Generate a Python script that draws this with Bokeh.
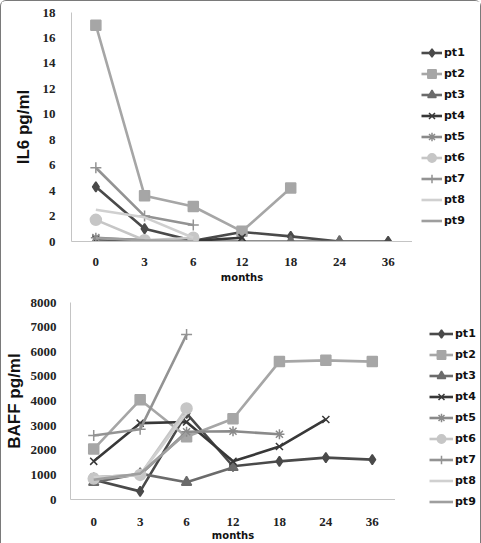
import math
from bokeh.plotting import figure
from bokeh.models import (Range1d, FactorRange, Legend, LegendItem,
                          ColumnDataSource, FixedTicker)
from bokeh.layouts import column, row
from bokeh.embed import file_html
from bokeh.resources import INLINE

nan = float("nan")

months = ["0", "3", "6", "12", "18", "24", "36"]
patients = ["pt1", "pt2", "pt3", "pt4", "pt5", "pt6", "pt7", "pt8", "pt9"]

# IL6 pg/ml
il6_pt1 = [4.3, 1.0, 0.05, 0.75, 0.4, 0.0, 0.0]
il6_pt2 = [17.0, 3.6, 2.75, 0.8, 4.2, nan, nan]
il6_pt3 = [0.0, 0.0, 0.0, 0.0, 0.0, 0.0, nan]
il6_pt4 = [0.2, 0.1, 0.05, 0.3, nan, nan, nan]
il6_pt5 = [0.3, 0.1, 0.0, nan, nan, nan, nan]
il6_pt6 = [1.7, 0.1, 0.3, nan, nan, nan, nan]
il6_pt7 = [5.8, 2.0, 1.3, nan, nan, nan, nan]
il6_pt8 = [2.5, 1.9, 0.3, nan, nan, nan, nan]
il6_pt9 = [0.25, 0.1, 0.0, nan, nan, nan, nan]

# BAFF pg/ml
baff_pt1 = [800, 330, 3500, 1350, 1550, 1700, 1620]
baff_pt2 = [2050, 4050, 2550, 3280, 5600, 5650, 5600]
baff_pt3 = [700, 1050, 700, 1300, nan, nan, nan]
baff_pt4 = [1550, 3100, 3150, 1550, 2150, 3250, nan]
baff_pt5 = [900, 1000, 2750, 2770, 2650, nan, nan]
baff_pt6 = [850, 1000, 3700, nan, nan, nan, nan]
baff_pt7 = [2600, 2850, 6700, nan, nan, nan, nan]
baff_pt8 = [900, 1000, 3500, nan, nan, nan, nan]
baff_pt9 = [800, 1050, 2700, nan, nan, nan, nan]

il6_ticks = [0, 2, 4, 6, 8, 10, 12, 14, 16, 18]
baff_ticks = [0, 1000, 2000, 3000, 4000, 5000, 6000, 7000, 8000]

colors = ["#4a4a4a", "#a6a6a6", "#6b6b6b", "#383838", "#8a8a8a",
          "#c6c6c6", "#939393", "#d0d0d0", "#9e9e9e"]
markers = ["diamond", "square", "triangle", "x", "asterisk", "circle", "cross", None, None]
msizes = [10, 10, 10, 10, 10, 11, 11, 0, 0]

TICK_FONT = "Liberation Serif"
LAB_FONT = "Liberation Sans"
LEG_FONT = "DejaVu Sans"


def add_series(p, series, visible=True):
    groups = []
    for name, vals, c, m, s in zip(patients, series, colors, markers, msizes):
        src = ColumnDataSource(dict(x=months, y=vals))
        rs = [p.line("x", "y", source=src, line_color=c, line_width=2.6)]
        if m is not None:
            rs.append(p.scatter("x", "y", source=src, marker=m, size=s,
                                fill_color=c, line_color=c, line_width=1.5))
        for r in rs:
            r.visible = visible
        groups.append((name, rs))
    return groups


def make_chart(series, ymax, ticks, ylabel, width, height, borders,
               xstandoff, ystandoff, ylab_standoff, xlab_standoff):
    bl, bt, bb = borders
    p = figure(width=width, height=height, x_range=FactorRange(*months),
               y_range=Range1d(0, ymax), output_backend="svg",
               toolbar_location=None, min_border_left=bl, min_border_right=0,
               min_border_top=bt, min_border_bottom=bb)
    p.outline_line_color = None
    p.xgrid.visible = False
    p.ygrid.visible = False
    p.yaxis.ticker = FixedTicker(ticks=ticks)
    for ax in (p.xaxis[0], p.yaxis[0]):
        ax.axis_line_color = "#c4c4c4"
        ax.axis_line_width = 1
        ax.major_tick_line_color = None
        ax.minor_tick_line_color = None
        ax.major_label_text_font = TICK_FONT
        ax.major_label_text_font_style = "bold"
        ax.major_label_text_font_size = "13px"
        ax.major_label_text_color = "#222222"
    p.xaxis.major_label_standoff = xstandoff
    p.yaxis.major_label_standoff = ystandoff
    p.yaxis.axis_label = ylabel
    p.yaxis.axis_label_text_font = LAB_FONT
    p.yaxis.axis_label_text_font_style = "bold"
    p.yaxis.axis_label_text_font_size = "17px"
    p.yaxis.axis_label_text_color = "#111111"
    p.yaxis.axis_label_standoff = ylab_standoff
    p.xaxis.axis_label = "months"
    p.xaxis.axis_label_text_font = LEG_FONT
    p.xaxis.axis_label_text_font_style = "bold"
    p.xaxis.axis_label_text_font_size = "10px"
    p.xaxis.axis_label_text_color = "#111111"
    p.xaxis.axis_label_standoff = xlab_standoff
    add_series(p, series)
    return p


def make_legend(series, ymax, width, height, loc, glyph_w):
    q = figure(width=width, height=height, x_range=FactorRange(*months),
               y_range=Range1d(0, ymax), output_backend="svg",
               toolbar_location=None, x_axis_location=None, y_axis_location=None,
               min_border=0)
    q.frame_align = False
    q.outline_line_color = None
    q.xgrid.visible = False
    q.ygrid.visible = False
    groups = add_series(q, series, visible=False)
    items = [LegendItem(label=n, renderers=rs) for n, rs in groups]
    leg = Legend(items=items, location=loc)
    leg.border_line_color = None
    leg.background_fill_alpha = 0
    leg.padding = 0
    leg.margin = 0
    leg.spacing = 0
    leg.glyph_height = 21
    leg.label_height = 21
    leg.glyph_width = glyph_w
    leg.label_standoff = 2
    leg.label_text_font = LEG_FONT
    leg.label_text_font_style = "bold"
    leg.label_text_font_size = "11px"
    leg.label_text_color = "#111111"
    q.add_layout(leg)
    return q


il6_series = [il6_pt1, il6_pt2, il6_pt3, il6_pt4, il6_pt5, il6_pt6,
              il6_pt7, il6_pt8, il6_pt9]
baff_series = [baff_pt1, baff_pt2, baff_pt3, baff_pt4, baff_pt5, baff_pt6,
               baff_pt7, baff_pt8, baff_pt9]

p1 = make_chart(il6_series, 18, il6_ticks, "IL6 pg/ml", 411, 285,
                (70, 11, 45), 10, 10, 7, 3)
l1 = make_legend(il6_series, 18, 68, 285, (9, 55), 21)

p2 = make_chart(baff_series, 8000, baff_ticks, "BAFF pg/ml", 394, 257,
                (66, 16, 41), 12, 8, 4, 1)
l2 = make_legend(baff_series, 8000, 85, 257, (34, 31), 24)

layout = column(row(p1, l1, spacing=0), row(p2, l2, spacing=0), spacing=0,
                styles={"border": "1px solid #7a7a7a", "border-bottom": "none",
                        "border-radius": "6px 6px 0 0", "background": "white"})

open("out.html", "w").write(file_html(layout, INLINE))
